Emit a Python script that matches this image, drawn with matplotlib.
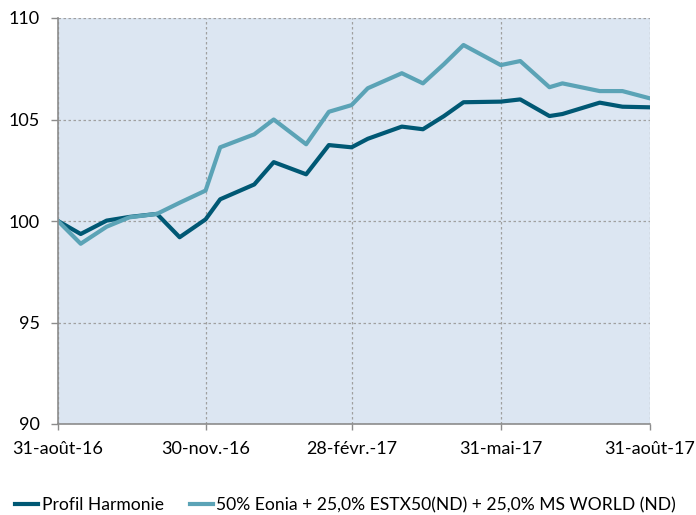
import matplotlib.pyplot as plt
import numpy as np

plt.rcParams['font.family'] = ['Lato', 'DejaVu Sans']

dates = ['2016-08-31', '2016-09-14', '2016-09-30', '2016-10-14', '2016-10-31',
         '2016-11-14', '2016-11-30', '2016-12-09', '2016-12-30', '2017-01-11',
         '2017-01-31', '2017-02-14', '2017-02-28', '2017-03-10', '2017-03-31',
         '2017-04-13', '2017-04-26', '2017-05-08', '2017-05-31', '2017-06-12',
         '2017-06-30', '2017-07-08', '2017-07-31', '2017-08-14', '2017-08-31']
harmonie = [100.0, 99.36, 100.02, 100.2, 100.35, 99.2, 100.08, 101.07, 101.8, 102.9,
            102.3, 103.74, 103.63, 104.05, 104.65, 104.52, 105.17, 105.85, 105.88, 105.99,
            105.17, 105.27, 105.83, 105.63, 105.6]
indice = [100.0, 98.88, 99.72, 100.18, 100.35, 100.9, 101.5, 103.63, 104.27, 105.0,
          103.78, 105.38, 105.71, 106.54, 107.28, 106.78, 107.73, 108.67, 107.68, 107.88,
          106.59, 106.78, 106.4, 106.4, 106.04]

tick_dates = ['2016-08-31', '2016-11-30', '2017-02-28', '2017-05-31', '2017-08-31']
tick_labels = ['31-août-16', '30-nov.-16', '28-févr.-17', '31-mai-17', '31-août-17']

x = np.array(dates, dtype='datetime64[D]')
xt = np.array(tick_dates, dtype='datetime64[D]')

fig = plt.figure(figsize=(6.96, 5.15), dpi=100)
ax = fig.add_axes([58 / 696, 1 - 424 / 515, 592 / 696, 406 / 515])
ax.set_facecolor('#dce6f2')

ax.plot(x, harmonie, color='#005874', lw=3.0, label='Profil Harmonie')
ax.plot(x, indice, color='#5ba3b6', lw=3.0,
        label='50% Eonia + 25,0% ESTX50(ND) + 25,0% MS WORLD (ND)')

ax.set_xlim(xt[0], xt[-1])
ax.set_ylim(90, 110)
ax.set_yticks([90, 95, 100, 105, 110])
ax.set_xticks(xt)
ax.set_xticklabels(tick_labels)

ax.grid(True, color='#a0a0a0', linestyle=(0, (2, 2)), lw=0.9)
for s in ['top', 'right']:
    ax.spines[s].set_visible(False)
for s in ['left', 'bottom']:
    ax.spines[s].set_color('#8c8c8c')
    ax.spines[s].set_linewidth(1.2)
ax.tick_params(axis='both', colors='#8c8c8c', labelcolor='black', labelsize=13, width=1)
ax.tick_params(axis='y', length=5, pad=8)
ax.tick_params(axis='x', length=4, pad=8)

fig.legend(*ax.get_legend_handles_labels(), loc='center',
           bbox_to_anchor=(345.5 / 696, 1 - 505 / 515), ncol=2, frameon=False,
           fontsize=12.6, handlelength=1.3, handletextpad=0.2, columnspacing=1.5)

fig.savefig('out.png', dpi=100)
